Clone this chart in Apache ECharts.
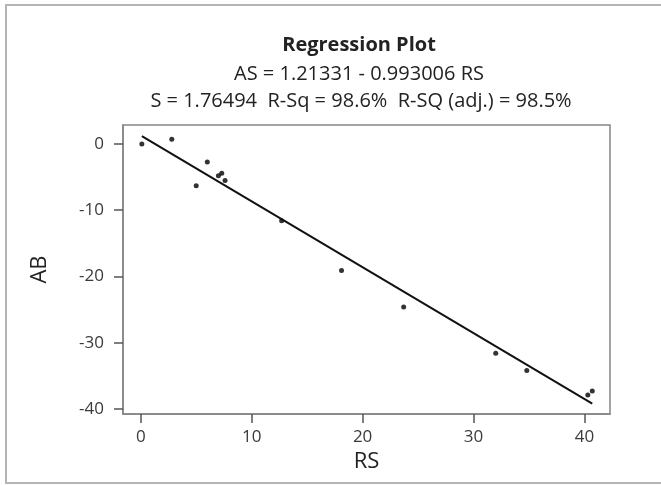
<!DOCTYPE html>
<html>
<head>
<meta charset="utf-8">
<script src="https://cdn.jsdelivr.net/npm/echarts@6/dist/echarts.min.js"></script>
<style>
  html, body { margin: 0; padding: 0; background: #fff; }
  #chart { width: 661px; height: 485px; }
</style>
</head>
<body>
<div id="chart"></div>
<script>
// observed points (RS, AB)
const rsValues = [0.1, 2.8, 5.0, 6.0, 7.0, 7.3, 7.6, 12.7, 18.1, 23.7, 32.0, 34.8, 40.3, 40.7];
const abValues = [0.0, 0.7, -6.3, -2.7, -4.8, -4.4, -5.5, -11.6, -19.1, -24.6, -31.6, -34.2, -37.9, -37.3];

// fitted line end points
const fitRS = [0.1, 40.7];
const fitAB = [1.2, -39.2];

const xTicks = [0, 10, 20, 30, 40];
const yTicks = [-40, -30, -20, -10, 0];

const titleText = 'Regression Plot';
const eqText = 'AS = 1.21331 - 0.993006 RS';
const statText = 'S = 1.76494  R-Sq = 98.6%  R-SQ (adj.) = 98.5%';

const font = 'Open Sans';
const axisColor = '#858585';
const labelColor = '#3a3a3a';

const chart = echarts.init(document.getElementById('chart'));

const option = {
  backgroundColor: '#fff',
  animation: false,
  title: [
    { text: titleText, left: 354, top: 30, textAlign: 'center',
      textStyle: { fontFamily: font, fontSize: 20, fontWeight: 'bold', color: '#222' } },
    { text: eqText, left: 354, top: 59, textAlign: 'center',
      textStyle: { fontFamily: font, fontSize: 20, fontWeight: 'normal', color: '#222' } },
    { text: statText, left: 356, top: 86, textAlign: 'center',
      textStyle: { fontFamily: font, fontSize: 20, fontWeight: 'normal', color: '#222' } }
  ],
  graphic: [
    { type: 'rect', shape: { x: 6, y: 5, width: 662, height: 478 },
      style: { fill: 'none', stroke: '#b4b4b4', lineWidth: 2 }, silent: true }
  ],
  grid: {
    left: 123, right: 51, top: 125, bottom: 71,
    show: true, borderColor: axisColor, borderWidth: 1.5
  },
  xAxis: {
    type: 'value',
    min: -1.6, max: 42.3,
    name: 'RS', nameLocation: 'middle', nameGap: 36,
    nameTextStyle: { fontFamily: font, fontSize: 22, color: '#222' },
    splitLine: { show: false },
    axisLine: { show: true, onZero: false, lineStyle: { color: axisColor, width: 1.5 } },
    axisTick: { show: true, length: 9, customValues: xTicks, lineStyle: { color: '#555', width: 1.5 } },
    axisLabel: { customValues: xTicks, margin: 15, fontFamily: font, fontSize: 17, color: labelColor }
  },
  yAxis: {
    type: 'value',
    min: -40.76, max: 2.87,
    name: 'AB', nameLocation: 'middle', nameGap: 72, nameRotate: 90,
    nameTextStyle: { fontFamily: font, fontSize: 22, color: '#222' },
    splitLine: { show: false },
    axisLine: { show: true, onZero: false, lineStyle: { color: axisColor, width: 1.5 } },
    axisTick: { show: true, length: 9, customValues: yTicks, lineStyle: { color: '#555', width: 1.5 } },
    axisLabel: { customValues: yTicks, margin: 19, fontFamily: font, fontSize: 17, color: labelColor }
  },
  series: [
    {
      type: 'line',
      data: fitRS.map((x, i) => [x, fitAB[i]]),
      showSymbol: false,
      lineStyle: { color: '#111', width: 2 },
      silent: true
    },
    {
      type: 'scatter',
      data: rsValues.map((x, i) => [x, abValues[i]]),
      symbol: 'circle',
      symbolSize: 5,
      itemStyle: { color: '#000' }
    }
  ]
};

chart.setOption(option);
</script>
</body>
</html>
